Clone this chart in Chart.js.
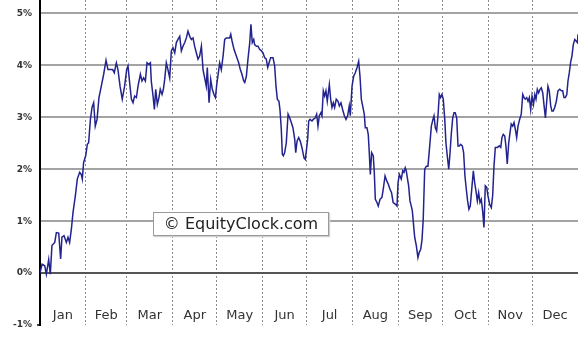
<!DOCTYPE html>
<html>
<head>
<meta charset="utf-8">
<script src="https://cdn.jsdelivr.net/npm/chart.js@4/dist/chart.umd.min.js"></script>
<style>
    html, body { margin: 0; padding: 0; background: #fff; }
    #wrap { position: relative; width: 585px; height: 340px; }
    #watermark {
        position: absolute; left: 153px; top: 212px; width: 174px; height: 22px;
        border: 1px solid #9a9a9a; background: #fff; color: #222;
        font: 16px "DejaVu Sans", sans-serif; line-height: 22px; text-align: center;
        box-shadow: 1px 1px 1px #d0d0d0;
    }
</style>
</head>
<body>
<div id="wrap">
    <canvas id="chart" width="585" height="340"></canvas>
    <div id="watermark">© EquityClock.com</div>
</div>
<script>
const monthNames = ['Jan', 'Feb', 'Mar', 'Apr', 'May', 'Jun', 'Jul', 'Aug', 'Sep', 'Oct', 'Nov', 'Dec'];
const monthStartDays = [31, 59, 90, 120, 151, 181, 212, 243, 273, 304, 334];
const monthMidDays = [15.5, 45, 74.5, 105, 135.5, 166, 196.5, 227.5, 258, 288.5, 319, 349.5];
const yTickValues = [-1, 0, 1, 2, 3, 4, 5];

// day of year / seasonal gain in %
const days = [
    0, 1.4, 3.2, 4.3, 5.9, 7, 8.1, 10, 11.1, 12.7, 14, 14.9, 16.3, 17.9, 19, 20.1, 21.3, 22.4, 24, 25.3,
    26.9, 28, 28.7, 29.6, 31, 32.1, 33, 34.2, 35.3, 36.4, 37.5, 38.7, 40, 41.6, 43.2, 44.8, 46.1, 48, 49.3, 50.4,
    51.8, 52.9, 54.3, 55.8, 57.4, 58.8,
    59.7, 60.8, 62, 63.1, 64.2, 65.4, 66.5, 68.1, 69.2, 70.3, 71.5, 72.6, 73.9, 74.9, 75.5, 76.7, 77.6, 78.5, 79.6, 80.7,
    81.6, 82.8, 83.7, 84.6, 85.7, 86.8, 88, 89.1, 90.2, 91.4, 92.5, 93.6, 94.8, 95.9, 97, 98.2, 99.3, 100.4, 101.6, 102.7,
    103.8, 104.9, 106.1, 107.2, 108.3, 109.5, 110.6, 111.7, 112.8, 113.5, 114.7, 115.8, 116.9, 118, 119, 119.9,
    121.9, 123, 124.2, 125.3, 126.4, 127.5, 128.7, 129.4, 130.3, 131.6, 133.2, 134.8, 135.9, 137, 138.2, 138.9, 140, 141.1, 142.3, 143.1,
    144, 145, 145.6, 146.8, 147.9, 149, 150.2, 151.3, 152.4, 153.5, 154.5, 155.4, 156.5, 158.1, 159.2, 160.1, 161, 162.1, 162.8, 163.7,
    164.4, 165.1, 166, 167.1, 168.3, 169.4, 170.5, 171.6, 172.8, 173.5, 174.4, 175.5, 176.6, 177.7, 179.1, 180,
    181.6, 182.3, 183.2, 184.5, 185.4, 186.8, 187.7, 188.6, 189.5, 190.6, 191.3, 192.2, 193.1, 194, 194.9, 196.3, 197.2, 198.1, 199, 199.9,
    201, 202.2, 203.1, 204.2, 205.3, 206.5, 207.6, 208.7, 209.8, 210.5, 211.7, 212.8, 213.9, 215.1, 216.2, 217.1, 218, 218.9, 220, 220.7,
    221.8, 222.7, 223.4, 224.1, 225, 226.1, 226.8, 227.5, 228.6, 229.5, 230.7, 232, 232.9, 234.1, 235.2, 236.3, 237.4, 238.5, 239.6, 241,
    242.2, 242.9, 243.8,
    245.1, 246.1, 246.9, 247.8, 248.5, 249.2, 250.1, 251, 251.9, 252.6, 253.5, 254.2, 255.3, 256.4, 257.3, 258.3, 259.2, 260, 261, 262.1,
    263.2, 264.4, 265.5, 266.6, 267.3, 268.2, 269.1, 270, 270.9, 271.8, 272.7, 273.6, 274.6, 275.4, 276.3, 277.3, 278.2, 279, 280, 280.9,
    281.7, 282.7, 283.6, 284.5, 285.4, 286.5, 287.4, 288.3, 289.2, 290.1, 291, 291.9, 293.1, 294, 294.9, 295.8, 296.7, 297.6, 298.5, 299.4,
    300.4, 301.2, 302.1, 303.1,
    303.9, 305.1, 306.2, 307.1, 308, 308.9, 310.3, 311.6, 312.6, 313.4, 314.3, 315.3, 316.1, 317, 318, 318.9, 319.7, 320.7, 321.6, 322.5,
    323.4, 324.3, 325.4, 326.5, 327.5, 328.4, 329.2, 330.2, 331.1, 332, 332.9, 333.8, 334.8, 335.7, 336.5, 337.4, 338.3, 339.2, 340.1, 341.1,
    342, 342.9, 343.9, 344.6, 345.5, 346.5, 347.3, 348.2, 349.2, 350.3, 351.4, 352.6, 353.7, 354.6, 355.5, 356.4, 357.4, 358.2, 359.1, 360.1,
    360.9, 361.8, 362.8, 363.7, 364.6, 365
];
const values = [
    0, 0.17, 0.14, -0.02, 0.26, -0.02, 0.53, 0.59, 0.78, 0.77, 0.27, 0.69, 0.72, 0.59, 0.69, 0.59, 0.85, 1.17, 1.49, 1.81,
    1.94, 1.90, 1.81, 2.13, 2.26, 2.48, 2.51, 2.96, 3.19, 3.28, 2.83, 2.96, 3.38, 3.60, 3.83, 4.10, 3.92, 3.92, 3.92, 3.86,
    4.05, 3.92, 3.60, 3.35, 3.60, 3.92,
    3.99, 3.67, 3.35, 3.28, 3.41, 3.38, 3.60, 3.83, 3.70, 3.76, 3.70, 4.05, 4.02, 4.05, 3.70, 3.41, 3.15, 3.54, 3.25, 3.38,
    3.54, 3.44, 3.54, 3.73, 4.05, 3.92, 3.76, 4.28, 4.34, 4.24, 4.44, 4.50, 4.56, 4.28, 4.37, 4.44, 4.53, 4.66, 4.56, 4.50,
    4.53, 4.37, 4.24, 4.12, 4.18, 4.37, 3.92, 3.76, 3.60, 3.96, 3.28, 3.73, 3.54, 3.44, 3.38, 3.63,
    4.05, 3.92, 4.18, 4.50, 4.53, 4.53, 4.53, 4.60, 4.47, 4.31, 4.18, 4.05, 3.92, 3.83, 3.70, 3.67, 3.79, 4.12, 4.44, 4.79,
    4.44, 4.50, 4.40, 4.37, 4.37, 4.31, 4.28, 4.24, 4.15, 4.12, 3.96, 4.05, 4.15, 4.15, 3.99, 3.60, 3.35, 3.31, 3.15, 2.77,
    2.29, 2.26, 2.32, 2.51, 3.06, 2.99, 2.90, 2.80, 2.58, 2.32, 2.54, 2.61, 2.54, 2.42, 2.22, 2.19,
    2.58, 2.93, 2.96, 2.93, 2.96, 2.99, 3.06, 2.83, 3.03, 3.09, 3.03, 3.51, 3.41, 3.51, 3.31, 3.63, 3.35, 3.19, 3.28, 3.19,
    3.35, 3.31, 3.22, 3.28, 3.15, 3.03, 2.96, 3.03, 3.22, 3.03, 3.60, 3.79, 3.86, 3.96, 4.08, 3.79, 3.35, 3.22, 3.06, 2.80,
    2.80, 2.67, 2.32, 1.90, 2.32, 2.26, 1.94, 1.42, 1.36, 1.29, 1.42, 1.46, 1.62, 1.87, 1.78, 1.71, 1.62, 1.55, 1.36, 1.33,
    1.29, 1.74, 1.90,
    1.81, 1.97, 1.94, 2.03, 1.97, 1.84, 1.68, 1.39, 1.29, 1.20, 0.91, 0.69, 0.53, 0.30, 0.40, 0.46, 0.65, 1.04, 2.00, 2.06,
    2.06, 2.45, 2.83, 2.96, 3.03, 2.80, 2.74, 3.03, 3.44, 3.38, 3.44, 3.35, 2.96, 2.51, 2.26, 2.00, 2.32, 2.67, 2.99, 3.09,
    3.09, 2.99, 2.45, 2.45, 2.48, 2.45, 2.32, 1.87, 1.62, 1.39, 1.23, 1.29, 1.68, 1.97, 1.74, 1.58, 1.39, 1.55, 1.36, 1.42,
    1.17, 0.88, 1.68, 1.65,
    1.49, 1.32, 1.26, 1.49, 2.06, 2.42, 2.42, 2.45, 2.42, 2.61, 2.67, 2.64, 2.45, 2.10, 2.51, 2.71, 2.87, 2.83, 2.90, 2.77,
    2.61, 2.83, 2.96, 3.06, 3.44, 3.38, 3.35, 3.38, 3.31, 3.38, 3.15, 3.41, 3.25, 3.44, 3.35, 3.54, 3.47, 3.54, 3.57, 3.47,
    3.22, 2.99, 3.35, 3.60, 3.51, 3.22, 3.12, 3.12, 3.19, 3.31, 3.51, 3.54, 3.51, 3.51, 3.38, 3.38, 3.44, 3.70, 3.86, 4.08,
    4.18, 4.40, 4.50, 4.47, 4.44, 4.60
];

const points = days.map((d, i) => ({ x: d, y: values[i] }));
if (days.length !== values.length) console.error('length mismatch', days.length, values.length);

Chart.defaults.font.family = '"DejaVu Sans", sans-serif';

new Chart(document.getElementById('chart'), {
    type: 'line',
    data: {
        datasets: [{
            data: points,
            borderColor: '#23238f',
            borderWidth: 1.5,
            pointRadius: 0,
            tension: 0,
            fill: false
        }]
    },
    options: {
        responsive: false,
        animation: false,
        layout: { padding: { left: 0, right: 7, top: 0, bottom: 0 } },
        plugins: { legend: { display: false }, tooltip: { enabled: false } },
        scales: {
            x: {
                type: 'linear',
                position: 'bottom',
                min: 0,
                max: 365,
                afterBuildTicks: s => { s.ticks = monthStartDays.map(v => ({ value: v })); },
                afterFit: s => { s.height = 15; s.paddingLeft = 0; s.paddingRight = 0; },
                grid: { color: '#8a8a8a', lineWidth: 1, drawTicks: false },
                border: { display: false, dash: [2, 2] },
                ticks: { display: false }
            },
            months: {
                type: 'linear',
                axis: 'x',
                position: { y: 0 },
                min: 0,
                max: 365,
                afterBuildTicks: s => { s.ticks = monthMidDays.map(v => ({ value: v })); },
                afterFit: s => { s.height = 0; s.paddingLeft = 0; s.paddingRight = 0; },
                grid: { display: false, drawTicks: false },
                border: { display: false },
                ticks: {
                    autoSkip: false,
                    maxRotation: 0,
                    padding: 35,
                    color: '#333',
                    font: { size: 13 },
                    callback: (v, i) => monthNames[i]
                }
            },
            y: {
                position: 'left',
                min: -1,
                max: 5.26,
                afterBuildTicks: s => { s.ticks = yTickValues.map(v => ({ value: v })); },
                afterFit: s => { s.width = 40; s.paddingTop = 0; s.paddingBottom = 0; },
                grid: {
                    color: c => c.tick.value === 0 ? '#555' : (c.tick.value === -1 ? 'rgba(0,0,0,0)' : '#a3a3a3'),
                    lineWidth: 2,
                    tickLength: 3,
                    tickWidth: 1.5,
                    tickColor: c => c.tick.value === -1 ? '#000' : 'rgba(0,0,0,0)'
                },
                border: { color: '#000', width: 2 },
                ticks: {
                    padding: 5,
                    color: '#333',
                    font: { size: 9, weight: 'bold' },
                    callback: v => v + '%'
                }
            }
        }
    }
});
</script>
</body>
</html>
